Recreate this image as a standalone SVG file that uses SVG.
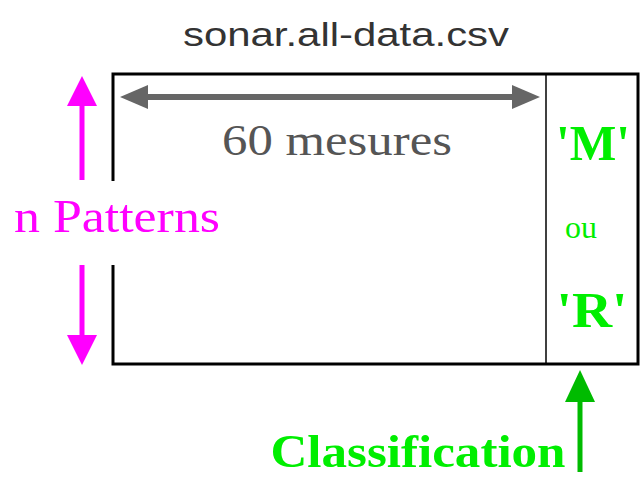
<svg xmlns="http://www.w3.org/2000/svg" width="643" height="477" viewBox="0 0 643 477">
<style>
.serif{font-family:"Liberation Serif","Times New Roman",serif}
.grn{fill:#00ee00;font-weight:bold}
</style>
<rect width="643" height="477" fill="#fff"/>
<g id="title"><text x="346" y="46" text-anchor="middle" font-family="Liberation Sans, sans-serif" font-size="34" fill="#333" textLength="326" lengthAdjust="spacingAndGlyphs">sonar.all-data.csv</text></g>
<g id="table">
<rect x="113" y="74" width="525" height="290" fill="none" stroke="#000" stroke-width="3"/>
<line x1="546" y1="74" x2="546" y2="364" stroke="#000" stroke-width="1.5"/>
<text class="serif" x="337" y="155" text-anchor="middle" font-size="44" fill="#555" textLength="230" lengthAdjust="spacingAndGlyphs">60 mesures</text>
<text class="serif grn" x="593" y="160" text-anchor="middle" font-size="50" textLength="74" lengthAdjust="spacingAndGlyphs">'M'</text>
<text class="serif" x="581" y="238" text-anchor="middle" font-size="32" fill="#00ee00" textLength="32" lengthAdjust="spacingAndGlyphs">ou</text>
<text class="serif grn" x="592" y="327" text-anchor="middle" font-size="50" textLength="71" lengthAdjust="spacingAndGlyphs">'R'</text>
</g>
<g id="patterns">
<rect x="10" y="181" width="214" height="84" fill="#fff"/>
<text class="serif" x="117" y="232" text-anchor="middle" font-size="46" fill="#ff00ff" textLength="206" lengthAdjust="spacingAndGlyphs">n Patterns</text>
</g>
<g id="classification">
<text class="serif grn" x="418" y="467" text-anchor="middle" font-size="46" textLength="295" lengthAdjust="spacingAndGlyphs">Classification</text>
</g>
<g id="connectors">
<line x1="140" y1="97" x2="518" y2="97" stroke="#666" stroke-width="6"/>
<polygon points="120,97 148,85 148,109" fill="#666"/>
<polygon points="540,97 512,85 512,109" fill="#666"/>
<line x1="82" y1="100" x2="82" y2="180" stroke="#ff00ff" stroke-width="5"/>
<polygon points="82,76 67,106 97,106" fill="#ff00ff"/>
<line x1="82" y1="265" x2="82" y2="340" stroke="#ff00ff" stroke-width="5"/>
<polygon points="82,365 67,335 97,335" fill="#ff00ff"/>
<line x1="580" y1="395" x2="580" y2="472" stroke="#00bb00" stroke-width="5"/>
<polygon points="580,370 565,402 595,402" fill="#00bb00"/>
</g>
</svg>
